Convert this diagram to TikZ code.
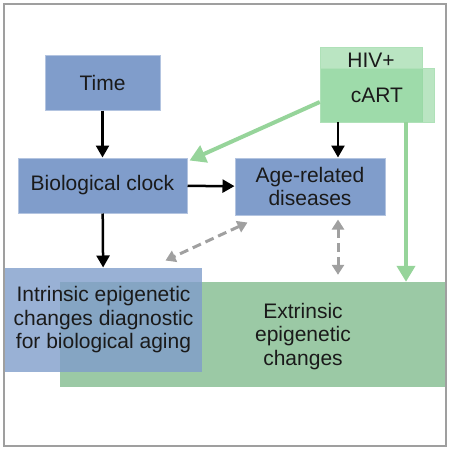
\documentclass[tikz,border=0pt]{standalone}
\usepackage{fontspec}
\setmainfont{Liberation Sans}
\usetikzlibrary{positioning, arrows.meta}

\definecolor{boxblue}{HTML}{809DCB}
\definecolor{boxgreen}{HTML}{9BC9A5}
\definecolor{hivgreen}{HTML}{8CD49A}
\definecolor{arrowgreen}{HTML}{96D49A}
\definecolor{dashgray}{HTML}{A0A0A0}
\definecolor{textdark}{HTML}{1A1A1A}

\begin{document}
\begin{tikzpicture}[x=1pt, y=-1pt, font=\fontsize{21}{23.5}\selectfont, text=textdark]

	\tikzstyle{bluebox}=[fill=boxblue, draw=boxblue!60, line width=1pt, inner sep=0pt, align=center]
	\tikzstyle{greenbox}=[fill=boxgreen, draw=none, inner sep=0pt, align=center]
	\tikzstyle{hivbox}=[fill=hivgreen, fill opacity=0.6, text opacity=1, draw=hivgreen!70, inner sep=0pt, align=center]

	\tikzstyle{cause}=[-{Triangle[length=12pt, width=13pt]}, line width=2.5pt, black]
	\tikzstyle{treat}=[-{Triangle[length=16pt, width=18pt]}, line width=4pt, arrowgreen]
	\tikzstyle{link}=[{Triangle[length=10pt, width=12pt]}-{Triangle[length=10pt, width=12pt]}, line width=3pt, dashgray, dash pattern=on 9pt off 5pt]

	\useasboundingbox (0,0) rectangle (450,450);
	\draw[gray!75, line width=2pt] (4,4) rectangle (446,446);

	\node[bluebox, minimum width=115, minimum height=55] (time) at (102.5,82.5) {Time};
	\node[bluebox, minimum width=169, minimum height=55] (clock) at (102.5,185.5) {Biological clock};
	\node[bluebox, minimum width=150, minimum height=57] (dis) at (310,186.5) {Age-related\\diseases};

	\node[hivbox, minimum width=102, minimum height=75,
		label={[anchor=north, inner sep=0pt, yshift=-6pt]north:HIV+}] (hiv) at (371,84.5) {};
	\node[hivbox, minimum width=114, minimum height=54] (cart) at (377,95) {cART};

	\node[greenbox, minimum width=385, minimum height=105,
		label={[align=center, inner sep=0pt, xshift=50.5pt, yshift=-2pt]center:Extrinsic\\epigenetic\\changes}] (ext) at (252.5,334.5) {};
	\node[bluebox, draw=none, fill opacity=0.8, text opacity=1, minimum width=197, minimum height=104] (intr) at (103.5,320)
		{Intrinsic epigenetic\\changes diagnostic\\for biological aging};

	\draw[cause] (time) -- (clock);
	\draw[cause] (clock) -- (intr);
	\draw[cause] (clock) -- (dis);
	\draw[cause] ([xshift=28pt]dis.north |- cart.south) -- ([xshift=28pt]dis.north);

	\draw[treat] ([yshift=-7pt]cart.west) -- ([xshift=2pt, yshift=-3pt]clock.north east);
	\draw[treat] ([xshift=29pt]cart.south) -- ([xshift=29pt]cart.south |- ext.north);

	\draw[link] ([xshift=13pt, yshift=-7pt]dis.south west) -- ([xshift=-37pt, yshift=7pt]intr.north east);
	\draw[link, shorten <=4pt, shorten >=7pt] ([xshift=28pt]dis.south) -- ([xshift=28pt]dis.south |- ext.north);

\end{tikzpicture}
\end{document}
